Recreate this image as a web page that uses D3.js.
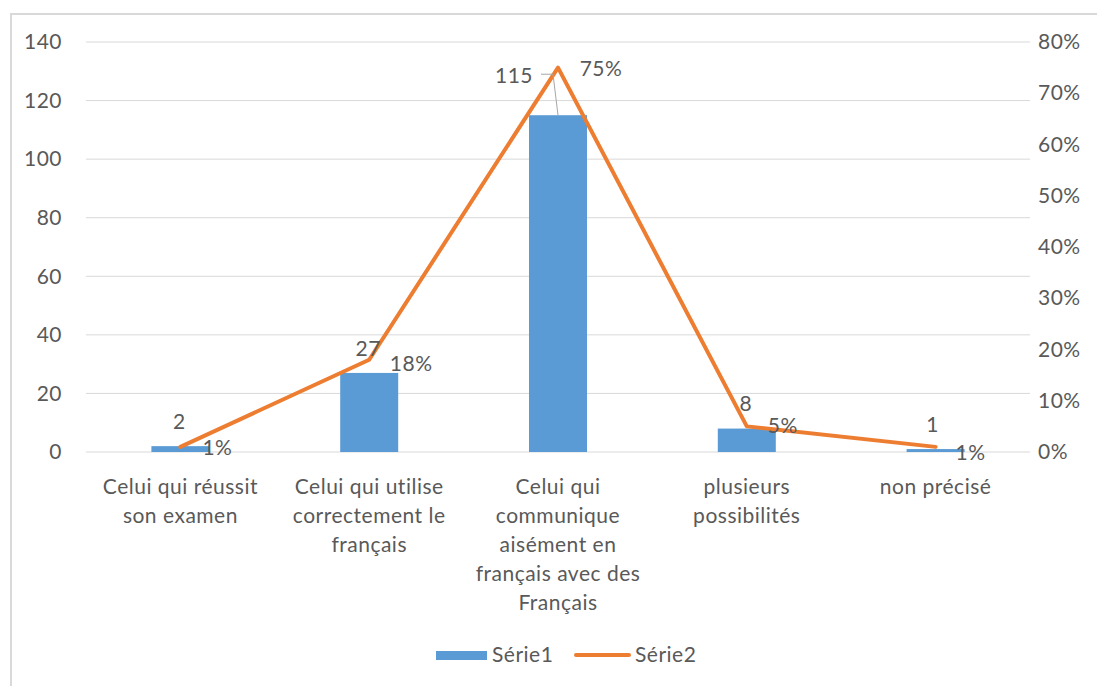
<!DOCTYPE html>
<html>
<head>
<meta charset="utf-8">
<script src="https://cdn.jsdelivr.net/npm/d3@7"></script>
<style>
  body { margin: 0; background: #fff; }
  svg text { font-family: Lato, "Open Sans", sans-serif; fill: #595959; letter-spacing: 0.5px; }
</style>
</head>
<body>
<svg id="chart" width="1097" height="686"></svg>
<script>
// Categories (multi-line labels) and the two series
const categories = [
  ["Celui qui réussit", "son examen"],
  ["Celui qui utilise", "correctement le", "français"],
  ["Celui qui", "communique", "aisément en", "français avec des", "Français"],
  ["plusieurs", "possibilités"],
  ["non précisé"]
];
const serie1 = [2, 27, 115, 8, 1];
const serie2 = [0.01, 0.18, 0.75, 0.05, 0.01];
const leftTicks = [0, 20, 40, 60, 80, 100, 120, 140];
const rightTicks = [0, 0.1, 0.2, 0.3, 0.4, 0.5, 0.6, 0.7, 0.8];
const seriesNames = ["Série1", "Série2"];

const svg = d3.select("#chart");
const blue = "#5b9bd5", orange = "#ed7d31", grid = "#d9d9d9";
const fs = 21;

// Chart frame (top and left edges)
svg.append("path")
  .attr("d", "M11,686 L11,14 L1097,14")
  .attr("fill", "none").attr("stroke", "#d9d9d9").attr("stroke-width", 2);

const plot = { left: 86, right: 1030, top: 42, bottom: 452 };
const idx = d3.range(categories.length);

const x = d3.scaleBand().domain(idx).range([plot.left, plot.right]);
const yL = d3.scaleLinear().domain([0, 140]).range([plot.bottom, plot.top]);
const yR = d3.scaleLinear().domain([0, 0.8]).range([plot.bottom, plot.top]);
const barW = 58;
const cx = i => x(i) + x.bandwidth() / 2;

// Gridlines
svg.append("g").selectAll("line").data(leftTicks).join("line")
  .attr("x1", plot.left).attr("x2", plot.right)
  .attr("y1", d => yL(d)).attr("y2", d => yL(d))
  .attr("stroke", grid).attr("stroke-width", 1);

// Left axis
const axL = svg.append("g").attr("transform", `translate(${plot.left},0)`)
  .call(d3.axisLeft(yL).tickValues(leftTicks).tickSize(0).tickPadding(24));
axL.select(".domain").remove();
axL.selectAll("text").attr("font-size", fs).style("fill", "#595959")
  .style("font-family", "Lato, sans-serif");

// Right axis
const axR = svg.append("g").attr("transform", `translate(${plot.right},0)`)
  .call(d3.axisRight(yR).tickValues(rightTicks).tickFormat(d3.format(".0%")).tickSize(0).tickPadding(8));
axR.select(".domain").remove();
axR.selectAll("text").attr("font-size", fs).style("fill", "#595959")
  .style("font-family", "Lato, sans-serif");

// Bars
svg.append("g").selectAll("rect").data(serie1).join("rect")
  .attr("x", (d, i) => cx(i) - barW / 2)
  .attr("width", barW)
  .attr("y", d => yL(d))
  .attr("height", d => plot.bottom - yL(d))
  .attr("fill", blue);

// Line
const line = d3.line().x((d, i) => cx(i)).y(d => yR(d));
svg.append("path").datum(serie2)
  .attr("d", line)
  .attr("fill", "none").attr("stroke", orange).attr("stroke-width", 4)
  .attr("stroke-linejoin", "round").attr("stroke-linecap", "round");

// Bar value labels (offsets per label)
const barLabelOffset = [[-1, -17], [-1, -17], [-44, -32], [-1, -18], [-3, -17]];
svg.append("g").selectAll("text").data(serie1).join("text")
  .attr("x", (d, i) => cx(i) + barLabelOffset[i][0])
  .attr("y", (d, i) => yL(d) + barLabelOffset[i][1])
  .attr("text-anchor", "middle").attr("font-size", fs)
  .text(d => d);

// Leader line for the tallest bar's label
svg.append("path")
  .attr("d", `M${cx(2) - 17},${yL(serie1[2]) - 41} L${cx(2) - 5},${yL(serie1[2]) - 41} L${cx(2)},${yL(serie1[2])}`)
  .attr("fill", "none").attr("stroke", "#a6a6a6").attr("stroke-width", 1);

// Line value labels
const pctOffset = [[37, 8], [42, 11], [43, 8], [36, 7], [35, 13]];
svg.append("g").selectAll("text").data(serie2).join("text")
  .attr("x", (d, i) => cx(i) + pctOffset[i][0])
  .attr("y", (d, i) => yR(d) + pctOffset[i][1])
  .attr("text-anchor", "middle").attr("font-size", fs)
  .text(d => d3.format(".0%")(d));

// Category labels
const cat = svg.append("g").selectAll("text").data(categories).join("text")
  .attr("text-anchor", "middle").attr("font-size", fs);
cat.each(function (lines, i) {
  d3.select(this).selectAll("tspan").data(lines).join("tspan")
    .attr("x", cx(i)).attr("y", (d, j) => 494 + j * 29).text(d => d);
});

// Legend
const lg = svg.append("g");
lg.append("rect").attr("x", 436).attr("y", 651).attr("width", 51).attr("height", 9).attr("fill", blue);
lg.append("text").attr("x", 492).attr("y", 662).attr("font-size", fs).text(seriesNames[0]);
lg.append("line").attr("x1", 576).attr("x2", 629).attr("y1", 655).attr("y2", 655)
  .attr("stroke", orange).attr("stroke-width", 4).attr("stroke-linecap", "round");
lg.append("text").attr("x", 635).attr("y", 662).attr("font-size", fs).text(seriesNames[1]);
</script>
</body>
</html>
